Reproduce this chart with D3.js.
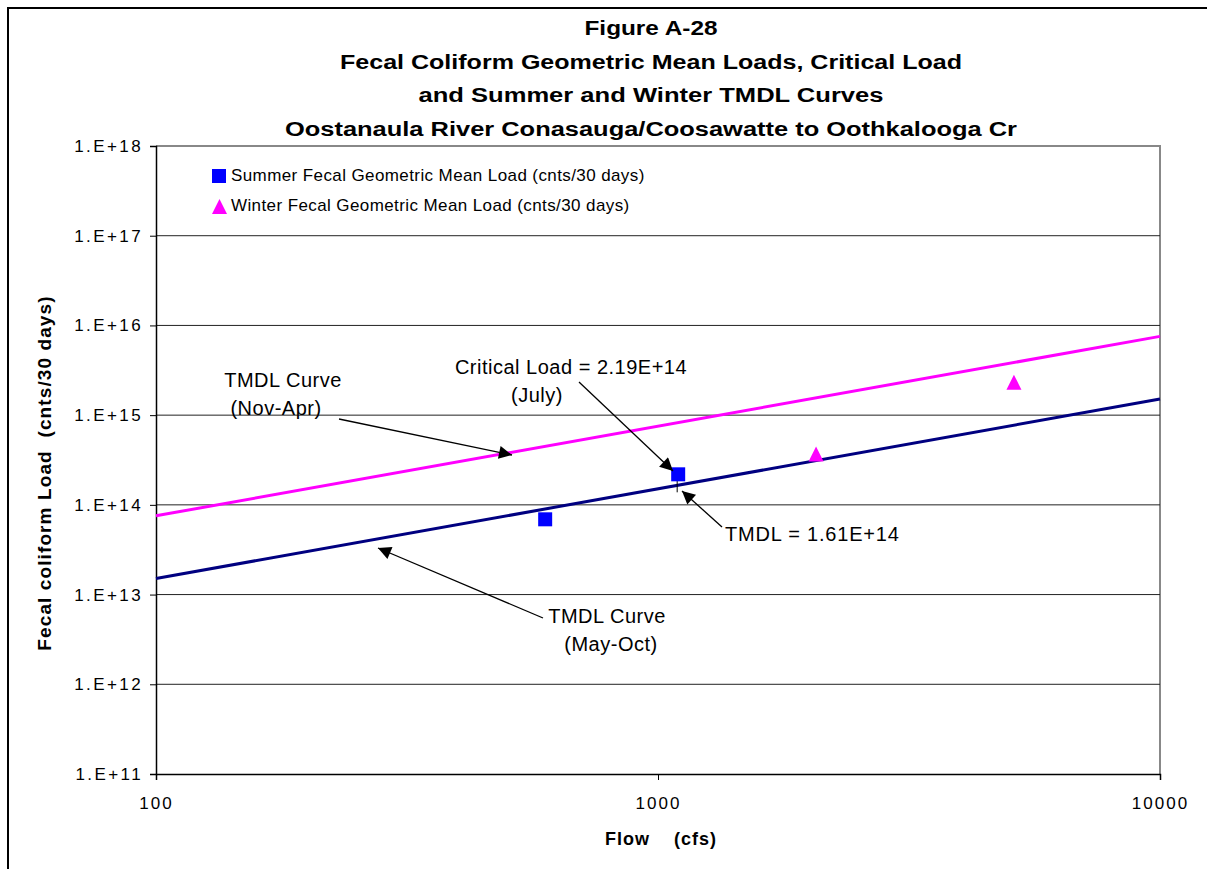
<!doctype html>
<html>
<head>
<style>
    body { margin: 0; background: #fff; }
    text { font-family: Arial, "Liberation Sans", sans-serif; }
</style>
</head>
<body>
    <div class="container"></div>

    <script src="https://d3js.org/d3.v7.min.js"></script>

    <script>
        // data
        const titleLines = [
            'Figure A-28',
            'Fecal Coliform Geometric Mean Loads,  Critical Load',
            'and Summer and Winter TMDL Curves',
            'Oostanaula River Conasauga/Coosawatte to Oothkalooga Cr'
        ];
        const summerFlow = [596, 1097];
        const summerLoad = [6.9e13, 2.19e14];
        const winterFlow = [2065, 5117];
        const winterLoad = [3.7e14, 2.33e15];
        const curveFlow = [100, 10000];
        const summerCurve = [1.51e13, 1.51e15];
        const winterCurve = [7.55e13, 7.55e15];
        const xTicks = [100, 1000, 10000];
        const yTicks = [1e11, 1e12, 1e13, 1e14, 1e15, 1e16, 1e17, 1e18];

        const W = 1207, H = 869;
        const pL = 156, pR = 1160, pT = 146, pB = 774;

        const svg = d3.select('.container').append('svg').attr('width', W).attr('height', H);

        const x = d3.scaleLog().domain([100, 10000]).range([pL, pR]);
        const y = d3.scaleLog().domain([1e11, 1e18]).range([pB, pT]);

        // outer frame
        svg.append('path').attr('d', `M8,${H} V8 H${W}`)
            .attr('fill', 'none').attr('stroke', '#000').attr('stroke-width', 2);

        // titles
        svg.selectAll('.title').data(titleLines).enter().append('text')
            .attr('x', 651).attr('y', (d, i) => 35 + i * 33.5)
            .attr('text-anchor', 'middle')
            .attr('font-size', 20).attr('font-weight', 'bold')
            .attr('textLength', (d, i) => [133, 622, 465, 732][i])
            .attr('lengthAdjust', 'spacingAndGlyphs')
            .text(d => d);

        // plot frame (gray top/right)
        svg.append('path').attr('d', `M${pL},${pT} H${pR} V${pB}`)
            .attr('fill', 'none').attr('stroke', '#888').attr('stroke-width', 2);

        // grid
        svg.selectAll('.grid').data(yTicks.slice(1, -1)).enter().append('line')
            .attr('x1', pL).attr('x2', pR)
            .attr('y1', d => y(d)).attr('y2', d => y(d))
            .attr('stroke', '#222').attr('stroke-width', 1);

        // axes
        const yAxis = d3.axisLeft(y).tickValues(yTicks)
            .tickFormat(d => '1.E+' + Math.round(Math.log10(d))).tickSize(6).tickPadding(7);
        const gy = svg.append('g').attr('transform', `translate(${pL},0)`).call(yAxis);
        gy.selectAll('text').attr('font-size', 17).attr('letter-spacing', 2.4).attr('fill', '#000');

        const xAxis = d3.axisBottom(x).tickValues(xTicks).tickFormat(d3.format('d')).tickSize(6).tickPadding(17);
        const gx = svg.append('g').attr('transform', `translate(0,${pB})`).call(xAxis);
        gx.selectAll('text').attr('font-size', 17).attr('letter-spacing', 2).attr('fill', '#000');
        svg.selectAll('.domain').attr('stroke', '#000').attr('stroke-width', 1.5);

        svg.append('text').attr('x', 661).attr('y', 845).attr('text-anchor', 'middle')
            .attr('font-size', 18).attr('font-weight', 'bold').attr('letter-spacing', 1)
            .attr('xml:space', 'preserve')
            .text('Flow    (cfs)');
        svg.append('text').attr('transform', 'translate(51,473) rotate(-90)').attr('text-anchor', 'middle')
            .attr('font-size', 19).attr('font-weight', 'bold').attr('letter-spacing', 1.1)
            .attr('xml:space', 'preserve')
            .text('Fecal coliform Load  (cnts/30 days)');

        // TMDL curves
        const line = d3.line().x(d => x(d[0])).y(d => y(d[1]));
        svg.append('path').datum(d3.zip(curveFlow, winterCurve)).attr('d', line)
            .attr('fill', 'none').attr('stroke', '#ff00ff').attr('stroke-width', 3);
        svg.append('path').datum(d3.zip(curveFlow, summerCurve)).attr('d', line)
            .attr('fill', 'none').attr('stroke', '#000080').attr('stroke-width', 3);

        // small drop mark at the critical point
        svg.append('line')
            .attr('x1', x(summerFlow[1]) - 1).attr('x2', x(summerFlow[1]) - 1)
            .attr('y1', y(summerLoad[1]) + 6).attr('y2', y(summerLoad[1]) + 18)
            .attr('stroke', '#000').attr('stroke-width', 1);

        // points
        const triPath = s => `M0,${-s}L${s},${s}L${-s},${s}Z`;
        svg.selectAll('.sq').data(d3.zip(summerFlow, summerLoad)).enter().append('rect')
            .attr('x', d => x(d[0]) - 7).attr('y', d => y(d[1]) - 7)
            .attr('width', 14).attr('height', 14).attr('fill', '#0000ff');
        svg.selectAll('.tri').data(d3.zip(winterFlow, winterLoad)).enter().append('path')
            .attr('d', triPath(7.5)).attr('transform', d => `translate(${x(d[0])},${y(d[1])})`)
            .attr('fill', '#ff00ff');

        // legend
        svg.append('rect').attr('x', 212).attr('y', 169).attr('width', 14).attr('height', 14).attr('fill', '#0000ff');
        svg.append('path').attr('d', triPath(7.5)).attr('transform', 'translate(219.5,206.5)').attr('fill', '#ff00ff');
        svg.append('text').attr('x', 231).attr('y', 181).attr('font-size', 17).attr('letter-spacing', 0.4)
            .text('Summer Fecal Geometric Mean Load (cnts/30 days)');
        svg.append('text').attr('x', 231).attr('y', 211).attr('font-size', 17).attr('letter-spacing', 0.4)
            .text('Winter Fecal Geometric Mean Load (cnts/30 days)');

        // annotations
        svg.append('defs').append('marker').attr('id', 'arr')
            .attr('viewBox', '0 0 10 10').attr('refX', 10).attr('refY', 5)
            .attr('markerWidth', 16).attr('markerHeight', 13).attr('markerUnits', 'userSpaceOnUse')
            .attr('orient', 'auto')
            .append('path').attr('d', 'M0,0 L10,5 L0,10 z').attr('fill', '#000');

        const notes = [
            { lines: ['TMDL Curve', '(Nov-Apr)'], x: [283, 276], y: 387, from: [339, 419], to: [512, 455] },
            { lines: ['Critical Load = 2.19E+14', '(July)'], x: [571, 537], y: 374, from: [579, 382], to: [673, 471] },
            { lines: ['TMDL Curve', '(May-Oct)'], x: [607, 611], y: 623, from: [543, 618], to: [378, 548] }
        ];
        notes.forEach(n => {
            n.lines.forEach((t, i) => {
                svg.append('text').attr('x', n.x[i]).attr('y', n.y + i * 28)
                    .attr('text-anchor', 'middle').attr('font-size', 20).attr('letter-spacing', 0.5).text(t);
            });
            svg.append('line').attr('x1', n.from[0]).attr('y1', n.from[1])
                .attr('x2', n.to[0]).attr('y2', n.to[1])
                .attr('stroke', '#000').attr('stroke-width', 1.3).attr('marker-end', 'url(#arr)');
        });
        svg.append('text').attr('x', 725).attr('y', 541).attr('font-size', 20).attr('letter-spacing', 0.8)
            .text('TMDL = 1.61E+14');
        svg.append('line').attr('x1', 722).attr('y1', 527).attr('x2', 682).attr('y2', 491)
            .attr('stroke', '#000').attr('stroke-width', 1.3).attr('marker-end', 'url(#arr)');
    </script>
</body>
</html>
